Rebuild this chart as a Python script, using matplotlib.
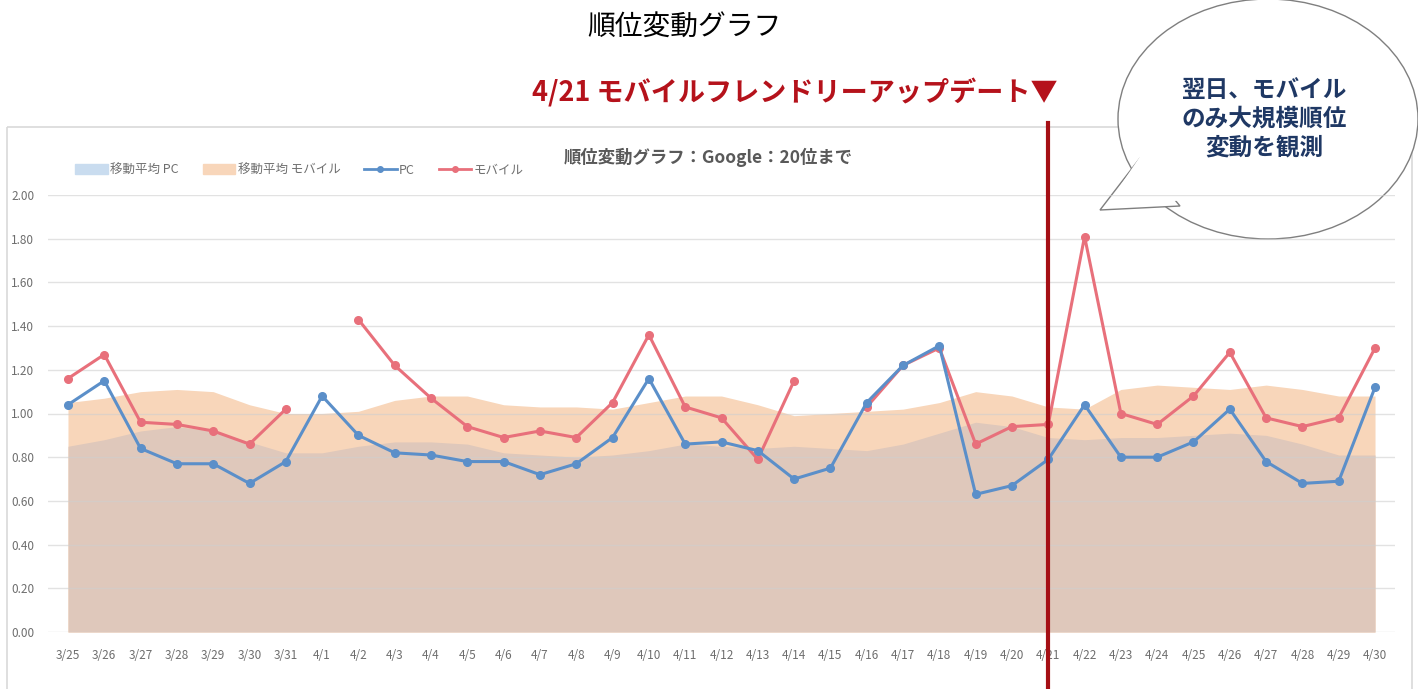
import matplotlib
matplotlib.use("Agg")
import matplotlib.pyplot as plt
import matplotlib.transforms as mtransforms
from matplotlib.patches import Ellipse, Polygon, Rectangle, Patch
from matplotlib.lines import Line2D
import numpy as np

plt.rcParams['font.family'] = ['Noto Sans CJK JP', 'DejaVu Sans']

# data
dates = ['3/25', '3/26', '3/27', '3/28', '3/29', '3/30', '3/31',
         '4/1', '4/2', '4/3', '4/4', '4/5', '4/6', '4/7', '4/8', '4/9', '4/10',
         '4/11', '4/12', '4/13', '4/14', '4/15', '4/16', '4/17', '4/18', '4/19', '4/20',
         '4/21', '4/22', '4/23', '4/24', '4/25', '4/26', '4/27', '4/28', '4/29', '4/30']

pc = [1.04, 1.15, 0.84, 0.77, 0.77, 0.68, 0.78,
      1.08, 0.90, 0.82, 0.81, 0.78, 0.78, 0.72, 0.77, 0.89, 1.16,
      0.86, 0.87, 0.83, 0.70, 0.75, 1.05, 1.22, 1.31, 0.63, 0.67,
      0.79, 1.04, 0.80, 0.80, 0.87, 1.02, 0.78, 0.68, 0.69, 1.12]

mobile = [1.16, 1.27, 0.96, 0.95, 0.92, 0.86, 1.02,
          None, 1.43, 1.22, 1.07, 0.94, 0.89, 0.92, 0.89, 1.05, 1.36,
          1.03, 0.98, 0.79, 1.15, None, 1.03, 1.22, 1.30, 0.86, 0.94,
          0.95, 1.81, 1.00, 0.95, 1.08, 1.28, 0.98, 0.94, 0.98, 1.30]

ma_pc = [0.85, 0.88, 0.92, 0.94, 0.92, 0.87, 0.82,
         0.82, 0.85, 0.87, 0.87, 0.86, 0.82, 0.81, 0.80, 0.81, 0.83,
         0.86, 0.85, 0.84, 0.85, 0.84, 0.83, 0.86, 0.91, 0.96, 0.94,
         0.89, 0.88, 0.89, 0.89, 0.90, 0.91, 0.90, 0.86, 0.81, 0.81]

ma_mobile = [1.05, 1.07, 1.10, 1.11, 1.10, 1.04, 1.00,
             1.00, 1.01, 1.06, 1.08, 1.08, 1.04, 1.03, 1.03, 1.02, 1.05,
             1.08, 1.08, 1.04, 0.99, 1.00, 1.01, 1.02, 1.05, 1.10, 1.08,
             1.03, 1.02, 1.11, 1.13, 1.12, 1.11, 1.13, 1.11, 1.08, 1.08]

yticks = [0.0, 0.2, 0.4, 0.6, 0.8, 1.0, 1.2, 1.4, 1.6, 1.8, 2.0]
update_idx = dates.index('4/21')

x = np.arange(len(dates))
mob = np.array([np.nan if v is None else v for v in mobile])

fig = plt.figure(figsize=(14.18, 6.89), dpi=100)

# overlay in pixel coords for the frame, bubble etc.
over = fig.add_axes([0, 0, 1, 1], zorder=0)
over.set_xlim(0, 1418)
over.set_ylim(689, 0)
over.axis('off')
over.add_patch(Rectangle((7, 127), 1405, 600, fill=False, ec='#d9d9d9', lw=1.2))

ax = fig.add_axes([48 / 1418, 57 / 689, (1395 - 48) / 1418, 437 / 689], zorder=1)
ax.patch.set_alpha(0)

ax.fill_between(x, 0, ma_mobile, color='#f8d6ba', lw=0, zorder=1)
ax.fill_between(x, 0, ma_pc, color='#dfc8bb', lw=0, zorder=2)
for t in yticks:
    ax.axhline(t, color='#cfcfcf', lw=1, alpha=0.6, zorder=3)

ax.plot(x, pc, color='#5b8fc9', lw=2.2, marker='o', ms=5.5, zorder=5)
ax.plot(x, mob, color='#e8707b', lw=2.2, marker='o', ms=5.5, zorder=4)

ax.set_xlim(-0.55, len(dates) - 1 + 0.55)
ax.set_ylim(0, 2.0)
ax.set_yticks(yticks)
ax.set_yticklabels(['%.2f' % t for t in yticks])
ax.set_xticks(x)
ax.set_xticklabels(dates)
ax.tick_params(axis='both', length=0, labelsize=8.5, labelcolor='#6e6e6e')
ax.tick_params(axis='y', pad=10)
ax.tick_params(axis='x', pad=12)
for s in ax.spines.values():
    s.set_visible(False)

# update line
trans = mtransforms.blended_transform_factory(ax.transData, ax.transAxes)
ax.plot([update_idx, update_idx], [-0.14, 1.165], transform=trans, color='#a50f15',
        lw=3, clip_on=False, zorder=10)

# legend
handles = [Patch(color='#c9dcef'), Patch(color='#f8d6ba'),
           Line2D([], [], color='#5b8fc9', lw=2, marker='o', ms=4),
           Line2D([], [], color='#e8707b', lw=2, marker='o', ms=4)]
fig.legend(handles, ['移動平均 PC', '移動平均 モバイル', 'PC', 'モバイル'],
           loc='center left', bbox_to_anchor=(64 / 1418, 1 - 170 / 689), ncol=4,
           frameon=False, fontsize=9, labelcolor='#6e6e6e', handlelength=2.6,
           handleheight=0.8, handletextpad=0.2, columnspacing=1.9)

# titles
fig.text(684 / 1418, 1 - 28 / 689, '順位変動グラフ', ha='center', va='center',
         fontsize=20, color='black')
fig.text(708 / 1418, 1 - 157 / 689, '順位変動グラフ：Google：20位まで', ha='center', va='center',
         fontsize=12.5, color='#595959', fontweight='bold')
fig.text(1058 / 1418, 1 - 93 / 689, '4/21 モバイルフレンドリーアップデート▼', ha='right', va='center',
         fontsize=19.5, color='#b5121b', fontweight='bold')

# speech bubble
over.add_patch(Ellipse((1268, 119), 300, 240, fc='white', ec='#7f7f7f', lw=1, zorder=5))
over.add_patch(Polygon([(1140, 158), (1100, 210), (1180, 206)], closed=True,
                       fc='white', ec='#7f7f7f', lw=1, zorder=6))
over.add_patch(Polygon([(1143, 152), (1106, 207), (1186, 200)], closed=True,
                       fc='white', ec='none', zorder=7))
over.text(1264, 119, '翌日、モバイル\nのみ大規模順位\n変動を観測', ha='center', va='center',
          fontsize=17, color='#1f3864', fontweight='bold', linespacing=1.25, zorder=8)

fig.savefig('out.png', dpi=100)
